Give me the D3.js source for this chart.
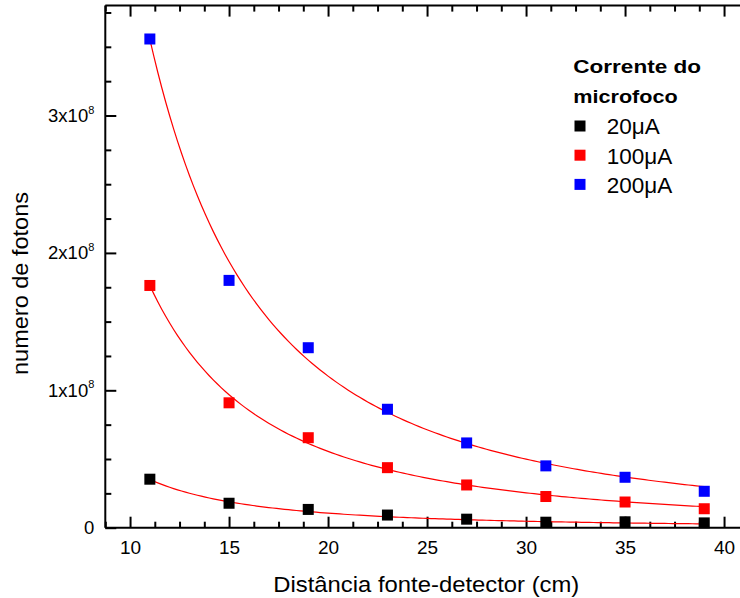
<!DOCTYPE html>
<html>
<head>
<meta charset="utf-8">
<script src="https://cdn.jsdelivr.net/npm/d3@7"></script>
<style>
  html, body { margin: 0; padding: 0; background: #fff; }
  svg { display: block; font-family: "Liberation Sans", Arial, sans-serif; }
</style>
</head>
<body>
<svg id="chart" width="740" height="598"></svg>
<script>
// Source–detector distance (cm)
const distances = [11, 15, 19, 23, 27, 31, 35, 39];

// Photon counts for each microfocus current
const photons20uA  = [0.353e8, 0.178e8, 0.133e8, 0.092e8, 0.062e8, 0.040e8, 0.043e8, 0.035e8];
const photons100uA = [1.763e8, 0.909e8, 0.655e8, 0.437e8, 0.311e8, 0.227e8, 0.187e8, 0.138e8];
const photons200uA = [3.557e8, 1.800e8, 1.310e8, 0.862e8, 0.617e8, 0.450e8, 0.367e8, 0.265e8];

const seriesNames  = ["20\u03bcA", "100\u03bcA", "200\u03bcA"];
const seriesColors = ["#000000", "#ff0000", "#0000ff"];

// Power-law fit y = A * x^(-b) for each series
const fitAmplitude = [4.24e9, 1.807e10, 3.88e10];
const fitExponent  = [2.0, 1.931, 1.957];

const xTickValues = [10, 15, 20, 25, 30, 35, 40];
const yTickValues = [0, 1e8, 2e8, 3e8];
const yTickLabels = ["0", "1x10", "2x10", "3x10"];
const yTickExponents = ["", "8", "8", "8"];

const legendTitle = ["Corrente do", "microfoco"];
const xTitle = "Dist\u00e2ncia fonte-detector (cm)";
const yTitle = "numero de fotons";

const svg = d3.select("#chart");
const FONT = "'Liberation Sans', Arial, sans-serif";

const plotLeft = 105.3, plotRight = 748.8, plotTop = 5.6, plotBottom = 527.7;

const x = d3.scaleLinear().domain([8.75, 41.25]).range([plotLeft, plotRight]);
const y = d3.scaleLinear().domain([0, 3.8e8]).range([plotBottom, plotTop]);

const series = [photons20uA, photons100uA, photons200uA].map((vals, i) => ({
  name: seriesNames[i],
  color: seriesColors[i],
  points: distances.map((d, j) => ({ x: d, y: vals[j] })),
  A: fitAmplitude[i],
  b: fitExponent[i]
}));

// Minor tick positions every 1.25 cm and every 0.25e8 photons
const xMinor = d3.range(8.75, 41.26, 1.25).filter(v => Math.abs(v / 5 - Math.round(v / 5)) > 1e-6);
const yMinor = d3.range(0, 3.81e8, 0.25e8).filter(v => Math.abs(v / 1e8 - Math.round(v / 1e8)) > 1e-6);

function styleAxis(g) {
  g.select(".domain").remove();
  g.selectAll(".tick line").attr("stroke", "#000").attr("stroke-width", 2);
}

// Bottom axis
svg.append("g")
  .attr("transform", `translate(0,${plotBottom})`)
  .call(d3.axisBottom(x).tickValues(xMinor).tickSize(-6).tickFormat(""))
  .call(styleAxis);
svg.append("g")
  .attr("transform", `translate(0,${plotBottom})`)
  .call(d3.axisBottom(x).tickValues(xTickValues).tickSize(-11).tickPadding(13).tickFormat(d3.format("d")))
  .call(styleAxis)
  .call(g => g.selectAll(".tick text")
    .attr("font-size", 19).attr("fill", "#000")
    .attr("font-family", FONT));

// Top axis (ticks only)
svg.append("g")
  .attr("transform", `translate(0,${plotTop})`)
  .call(d3.axisTop(x).tickValues(xMinor).tickSize(-6).tickFormat(""))
  .call(styleAxis);
svg.append("g")
  .attr("transform", `translate(0,${plotTop})`)
  .call(d3.axisTop(x).tickValues(xTickValues).tickSize(-11).tickFormat(""))
  .call(styleAxis);

// Left axis
svg.append("g")
  .attr("transform", `translate(${plotLeft},0)`)
  .call(d3.axisLeft(y).tickValues(yMinor).tickSize(-6).tickFormat(""))
  .call(styleAxis);
const yAxisG = svg.append("g")
  .attr("transform", `translate(${plotLeft},0)`)
  .call(d3.axisLeft(y).tickValues(yTickValues).tickSize(-11).tickPadding(11).tickFormat(""))
  .call(styleAxis);

yAxisG.selectAll(".tick text").each(function(d, i) {
  const t = d3.select(this)
    .attr("font-size", 18.5).attr("fill", "#000")
    .attr("font-family", FONT)
    .attr("dy", "0.32em");
  t.text(null);
  t.append("tspan").text(yTickLabels[i]);
  if (yTickExponents[i]) {
    t.append("tspan").attr("font-size", 11).attr("dy", -8.4).text(yTickExponents[i]);
  }
});

// Frame lines
svg.append("g").attr("stroke", "#000").attr("stroke-width", 2).attr("fill", "none")
  .selectAll("line")
  .data([
    [plotLeft, plotTop, plotRight, plotTop],
    [plotLeft, plotBottom, plotRight, plotBottom],
    [plotLeft, plotTop, plotLeft, plotBottom],
    [plotRight, plotTop, plotRight, plotBottom]
  ])
  .join("line")
  .attr("x1", d => d[0]).attr("y1", d => d[1])
  .attr("x2", d => d[2]).attr("y2", d => d[3]);

// Fit curves
const line = d3.line().x(d => x(d.x)).y(d => y(d.y));
series.forEach(s => {
  const x0 = d3.min(distances), x1 = d3.max(distances);
  const curve = d3.range(x0, x1 + 1e-9, 0.2).map(v => ({ x: v, y: s.A * Math.pow(v, -s.b) }));
  svg.append("path")
    .attr("d", line(curve))
    .attr("fill", "none")
    .attr("stroke", "#ff0000")
    .attr("stroke-width", 1.2);
});

// Data squares
const sq = 11;
series.forEach(s => {
  svg.append("g").selectAll("rect")
    .data(s.points)
    .join("rect")
    .attr("x", d => x(d.x) - sq / 2)
    .attr("y", d => y(d.y) - sq / 2)
    .attr("width", sq).attr("height", sq)
    .attr("fill", s.color);
});

// Axis titles
svg.append("text")
  .attr("x", 273.3)
  .attr("y", 591.7)
  .attr("font-size", 22)
  .attr("font-family", FONT)
  .attr("fill", "#000")
  .attr("textLength", 306)
  .attr("lengthAdjust", "spacingAndGlyphs")
  .text(xTitle);

svg.append("text")
  .attr("transform", "translate(28,375) rotate(-90)")
  .attr("font-size", 22)
  .attr("font-family", FONT)
  .attr("fill", "#000")
  .attr("textLength", 183)
  .attr("lengthAdjust", "spacingAndGlyphs")
  .text(yTitle);

// Legend
const legend = svg.append("g");
const titleWidths = [127.7, 104.4];
legend.selectAll("text.title")
  .data(legendTitle)
  .join("text")
  .attr("class", "title")
  .attr("x", 573.3)
  .attr("y", (d, i) => 73 + i * 29.5)
  .attr("font-size", 19)
  .attr("font-weight", "bold")
  .attr("font-family", FONT)
  .attr("fill", "#000")
  .attr("textLength", (d, i) => titleWidths[i])
  .attr("lengthAdjust", "spacingAndGlyphs")
  .text(d => d);

const items = legend.selectAll("g.item")
  .data(series)
  .join("g")
  .attr("class", "item")
  .attr("transform", (d, i) => `translate(580,${126 + i * 29.2})`);
items.append("rect")
  .attr("x", -sq / 2).attr("y", -sq / 2)
  .attr("width", sq).attr("height", sq)
  .attr("fill", d => d.color);
items.append("text")
  .attr("x", 26.7)
  .attr("y", 8.3)
  .attr("font-size", 22.5)
  .attr("font-family", FONT)
  .attr("fill", "#000")
  .text(d => d.name);
</script>
</body>
</html>
